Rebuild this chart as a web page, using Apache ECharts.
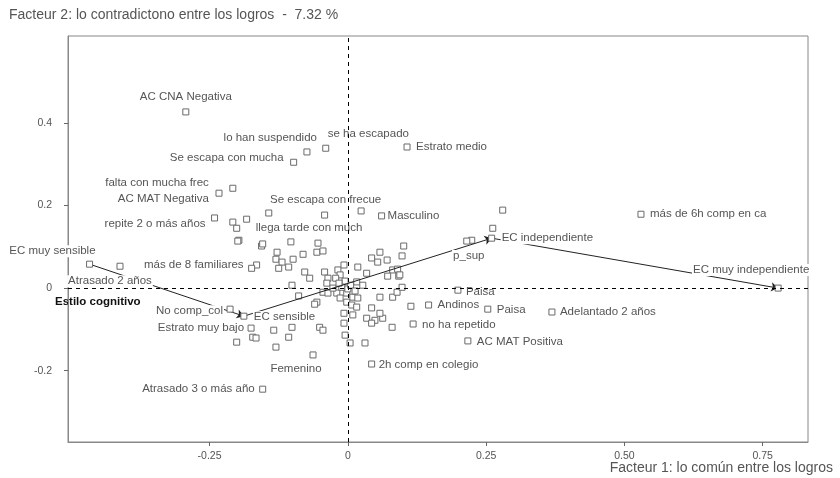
<!DOCTYPE html>
<html><head><meta charset="utf-8">
<script src="https://cdn.jsdelivr.net/npm/echarts@6/dist/echarts.min.js"></script>
<style>html,body{margin:0;padding:0;background:#fff}#c{width:840px;height:478px}</style>
</head><body><div id="c"></div>
<script>
// ---- data ----
const labelNames = ['AC CNA Negativa','lo han suspendido','se ha escapado','Estrato medio','Se escapa con mucha','falta con mucha frec','AC MAT Negativa','Se escapa con frecue','Masculino','repite 2 o más años','llega tarde con much','EC muy sensible','Atrasado 2 años','más de 8 familiares','No comp_col','EC sensible','Estrato muy bajo','Femenino','2h comp en colegio','Atrasado 3 o más año','Paisa','Andinos','Paisa','Adelantado 2 años','no ha repetido','AC MAT Positiva','p_sup','EC independiente','más de 6h comp en ca','EC muy independiente'];
const labelX = [-0.293,-0.074,-0.040,0.107,-0.098,-0.208,-0.233,-0.042,0.061,-0.241,-0.183,-0.467,-0.412,-0.174,-0.213,-0.188,-0.175,-0.063,0.043,-0.154,0.199,0.146,0.253,0.369,0.118,0.217,0.215,0.260,0.530,0.778];
const labelY = [0.427,0.330,0.339,0.342,0.305,0.242,0.230,0.177,0.175,0.170,0.167,0.058,0.053,0.048,-0.051,-0.068,-0.097,-0.162,-0.184,-0.245,-0.005,-0.041,-0.051,-0.058,-0.087,-0.128,0.114,0.121,0.179,0.000];
const otherX = [-0.143,0.024,-0.208,-0.201,-0.197,-0.199,-0.156,-0.103,-0.054,-0.128,-0.081,-0.056,-0.045,-0.130,-0.119,-0.099,-0.125,-0.107,-0.165,-0.078,-0.042,-0.018,-0.014,-0.007,0.018,0.034,0.058,0.043,0.054,0.071,0.101,0.098,0.081,0.090,0.092,0.072,-0.069,-0.101,-0.036,-0.038,-0.022,0.016,0.027,-0.089,-0.045,-0.036,-0.056,-0.060,-0.020,-0.014,-0.002,0.009,0.018,-0.002,0.007,0.016,-0.007,0.009,0.043,0.058,0.081,0.089,0.098,0.034,0.049,0.063,0.058,0.080,0.043,0.114,-0.172,-0.166,-0.201,-0.134,-0.101,-0.107,-0.130,-0.051,-0.045,-0.005,0.004,0.031,-0.154,0.262,0.280,0.224,0.094,-0.007,-0.011,0.000,0.005,-0.005,-0.027,0.013,-0.016];
const otherY = [0.182,0.187,0.160,0.145,0.116,0.114,0.102,0.112,0.109,0.087,0.082,0.087,0.090,0.070,0.063,0.070,0.048,0.051,0.056,0.039,0.039,0.044,0.032,0.056,0.051,0.036,0.087,0.073,0.063,0.068,0.102,0.078,0.044,0.046,0.029,0.029,0.024,0.007,0.024,0.012,0.024,0.015,0.007,-0.019,-0.010,-0.012,-0.034,-0.039,-0.012,-0.024,-0.012,-0.022,-0.024,-0.034,-0.041,-0.046,-0.061,-0.065,-0.048,-0.022,-0.022,-0.010,0.002,-0.073,-0.078,-0.073,-0.061,-0.095,-0.085,-0.044,-0.119,-0.121,-0.131,-0.102,-0.095,-0.119,-0.143,-0.095,-0.102,-0.114,-0.133,-0.133,0.107,0.145,0.189,0.116,0.032,-0.085,0.002,-0.002,0.007,0.017,0.000,-0.007,0.012];
const trajectory = ['EC muy sensible','EC sensible','EC independiente','EC muy independiente'];
const xTickValues = [-0.25,0,0.25,0.5,0.75];
const xTickLabels = ['-0.25','0','0.25','0.50','0.75'];
const yTickValues = [-0.2,0,0.2,0.4];
const yTickLabels = ['-0.2','0','0.2','0.4'];
const xRange = [-0.506,0.832];
const yRange = [-0.373,0.611];
const titleY = 'Facteur 2: lo contradictono entre los logros  -  7.32 %';
const titleX = 'Facteur 1: lo común entre los logros';
const groupTitle = 'Estilo cognitivo';

// ---- style: label placement [dx, dy, align] per labelled point ----
const labelPlace = [[0,-15,'center'],[11,-14,'right'],[1,-14,'left'],[8,0,'left'],[-9,-4,'right'],[-23,-5,'right'],[-9,6,'right'],[1,-15,'center'],[5,0,'left'],[-8,6,'right'],[8,9,'left'],[7,-13,'right'],[-10,15,'center'],[-7,-3,'right'],[-6,2,'right'],[9,1,'left'],[-6,0,'right'],[-17,14,'center'],[6,1,'left'],[-7,0,'right'],[7,2,'left'],[8,0,'left'],[8,1,'left'],[7,0,'left'],[8,1,'left'],[8,1,'left'],[2,15,'center'],[9,0,'left'],[8,0,'left'],[-27,-18,'center']];

const FONT = 'Liberation Sans';
const TXT = '#555';
function tickFmt(vals, labs){ return v => { const i = vals.findIndex(t => Math.abs(t - v) < 1e-9); return i < 0 ? '' : labs[i]; }; }

const labelled = labelNames.map((n,i) => ({
  name: n, value: [labelX[i], labelY[i]],
  label: { show: true, position: 'inside', offset: [labelPlace[i][0], labelPlace[i][1]], align: labelPlace[i][2], verticalAlign: 'middle', formatter: n }
}));
const others = otherX.map((x,i) => [x, otherY[i]]);
const idx = n => labelNames.indexOf(n);
const segs = [];
for (let k = 0; k < trajectory.length - 1; k++) {
  const a = idx(trajectory[k]), b = idx(trajectory[k+1]);
  segs.push({ coords: [[labelX[a], labelY[a]], [labelX[b], labelY[b]]] });
}

const chart = echarts.init(document.getElementById('c'), null, { renderer: 'canvas' });
chart.setOption({
  animation: false,
  backgroundColor: '#fff',
  textStyle: { fontFamily: FONT },
  title: [
    { text: titleY, left: 4, top: 3, textStyle: { fontSize: 14, fontWeight: 'normal', color: TXT, fontFamily: FONT } },
    { text: titleX, right: 2, bottom: -2, textStyle: { fontSize: 14, fontWeight: 'normal', color: TXT, fontFamily: FONT } }
  ],
  graphic: [{ type: 'text', left: 55, top: 296, style: { text: groupTitle, font: 'bold 11.5px "Liberation Sans"', fill: '#111' } }],
  grid: { left: 68, right: 32, top: 36, bottom: 36, show: true, borderColor: '#888', borderWidth: 1, backgroundColor: 'transparent' },
  xAxis: {
    type: 'value', min: xRange[0], max: xRange[1],
    axisLine: { onZero: false, lineStyle: { color: '#888' } },
    axisTick: { show: true, length: 4, customValues: xTickValues, lineStyle: { color: '#666' } },
    axisLabel: { customValues: xTickValues, formatter: tickFmt(xTickValues, xTickLabels), color: TXT, fontSize: 10.5, margin: 9, fontFamily: FONT },
    splitLine: { show: false }
  },
  yAxis: {
    type: 'value', min: yRange[0], max: yRange[1],
    axisLine: { show: true, onZero: false, lineStyle: { color: '#888' } },
    axisTick: { show: true, length: 4, customValues: yTickValues, lineStyle: { color: '#666' } },
    axisLabel: { customValues: yTickValues, formatter: tickFmt(yTickValues, yTickLabels), color: TXT, fontSize: 10.5, margin: 16, fontFamily: FONT },
    splitLine: { show: false }
  },
  series: [
    {
      type: 'scatter', z: 2, symbol: 'rect', symbolSize: 6, data: others,
      itemStyle: { color: '#fff', borderColor: '#6a6a6a', borderWidth: 1, opacity: 1 },
      markLine: {
        silent: true, symbol: 'none', label: { show: false },
        lineStyle: { color: '#000', type: [4, 4], width: 1 },
        data: [{ xAxis: 0 }, { yAxis: 0 }]
      }
    },
    {
      type: 'lines', coordinateSystem: 'cartesian2d', z: 3, data: segs,
      symbol: ['none', 'arrow'], symbolSize: 7,
      lineStyle: { color: '#222', width: 1, opacity: 1 }
    },
    {
      type: 'scatter', z: 4, symbol: 'rect', symbolSize: 6, data: labelled,
      itemStyle: { color: '#fff', borderColor: '#6a6a6a', borderWidth: 1, opacity: 1 },
      label: { color: TXT, fontSize: 11.5, fontFamily: FONT, backgroundColor: '#fff', padding: [0, 1] }
    }
  ]
});
</script></body></html>
